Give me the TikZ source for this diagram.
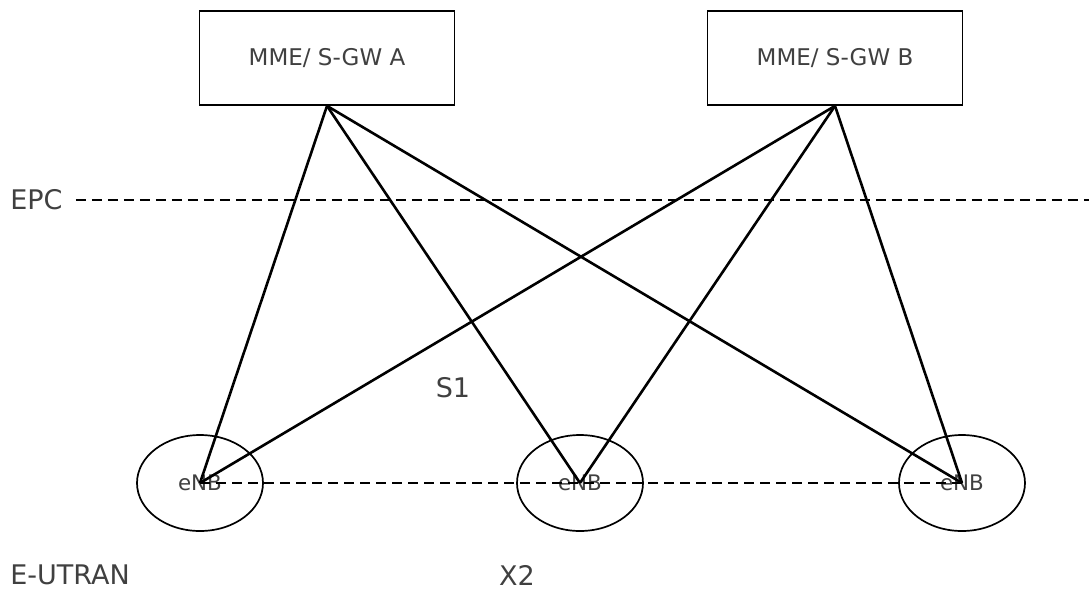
\documentclass[tikz,border=0pt]{standalone}
\usepackage{fontspec}
\setmainfont{DejaVu Sans}
\usetikzlibrary{shapes.geometric}
\definecolor{txtgray}{HTML}{404040}
\tikzset{
  gw/.style={draw, line width=0.9pt, minimum width=127.5pt, minimum height=47pt, text=txtgray, font=\fontsize{11.5}{13}\selectfont},
  enb/.style={draw, line width=0.85pt, ellipse, minimum width=63pt, minimum height=48pt, text=txtgray, font=\fontsize{10.7}{12}\selectfont, inner sep=0pt},
  lbl/.style={text=txtgray, font=\fontsize{13.5}{15}\selectfont, inner sep=0pt},
  iface/.style={line width=1.3pt, dash pattern=on 5pt off 3pt},
  link/.style={line width=1.3pt},
}
\begin{document}
\begin{tikzpicture}[x=0.5pt, y=-0.5pt]
    \useasboundingbox (0,0) rectangle (1089,591);

    % Pasarelas
    \node[gw] (gwa) at (327,58) {MME/ S-GW A};
    \node[gw] (gwb) at (835,58) {MME/ S-GW B};

    % eNBs
    \node[enb] (enb1) at (200,483) {eNB};
    \node[enb] (enb2) at (580,483) {eNB};
    \node[enb] (enb3) at (962,483) {eNB};

    % Etiquetas
    \node[lbl, anchor=west] (epc) at (10,200) {EPC};
    \node[lbl] (s1) at (453,388) {S1};
    \node[lbl, anchor=west] (eutran) at (10,575) {E-UTRAN};
    \node[lbl] (x2) at (517,575) {X2};
    \coordinate (epcend) at (1089,200);

    % Frontera EPC
    \draw[iface] (epc.east) ++(13,0) -- (epcend);

    % S1
    \foreach \g in {gwa,gwb}
      \foreach \e in {enb1,enb2,enb3}
        \draw[link] (\g.south) -- (\e.center);

    % X2
    \draw[iface] (enb1.center) -- (enb3.center);
\end{tikzpicture}
\end{document}
